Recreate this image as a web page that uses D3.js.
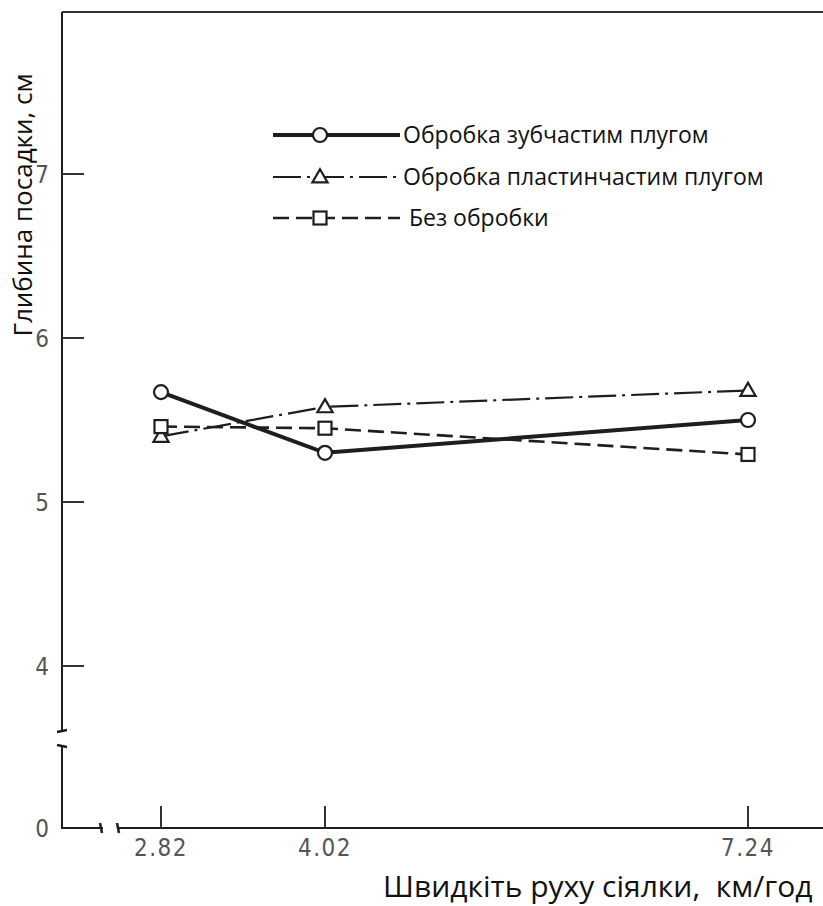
<!DOCTYPE html>
<html>
<head>
<meta charset="utf-8">
<script src="https://cdn.jsdelivr.net/npm/d3@7"></script>
<style>
  body { margin: 0; background: #fff; }
  svg { display: block; }
</style>
</head>
<body>
<div id="chart"></div>
<script>
// speeds, km/h
const speeds = [2.82, 4.02, 7.24];
const speedLabels = ['2.82', '4.02', '7.24'];

// planting depth, cm
const toothPlough = [5.67, 5.30, 5.50];
const platePlough = [5.40, 5.58, 5.68];
const noTillage = [5.46, 5.45, 5.29];

const seriesNames = ['Обробка зубчастим плугом', 'Обробка пластинчастим плугом', ' Без обробки'];
const yTicks = [4, 5, 6, 7];

const width = 823, height = 906;

const svg = d3.select('#chart')
    .append('svg')
    .attr('width', width)
    .attr('height', height);

// x positions of the three speeds are not evenly spaced in the original
const x = d3.scaleLinear()
    .domain(speeds)
    .range([161, 325, 748]);

const y = d3.scaleLinear()
    .domain([4, 7])
    .range([666, 174]);

const axisX = 62;     // left axis line
const baseY = 828;    // the zero line
const topY = 12;
const breakTop = 730, breakBottom = 747;
const ink = '#1e1e1e';

// frame: top border
svg.append('line')
    .attr('x1', axisX).attr('x2', width)
    .attr('y1', topY).attr('y2', topY)
    .attr('stroke', '#333').attr('stroke-width', 2);

// y axis in two pieces (broken)
svg.append('line')
    .attr('x1', axisX).attr('x2', axisX)
    .attr('y1', topY).attr('y2', breakTop)
    .attr('stroke', ink).attr('stroke-width', 2);
svg.append('line')
    .attr('x1', axisX).attr('x2', axisX)
    .attr('y1', breakBottom).attr('y2', baseY)
    .attr('stroke', ink).attr('stroke-width', 2);

// break marks on y axis
[breakTop, breakBottom].forEach(b => {
    svg.append('line')
        .attr('x1', axisX - 5).attr('x2', axisX + 5)
        .attr('y1', b + (b === breakTop ? 2 : -2)).attr('y2', b)
        .attr('stroke', ink).attr('stroke-width', 2.5);
});

// x axis in two pieces
svg.append('line')
    .attr('x1', axisX - 1).attr('x2', 103)
    .attr('y1', baseY).attr('y2', baseY)
    .attr('stroke', ink).attr('stroke-width', 2);
svg.append('line')
    .attr('x1', 117).attr('x2', width)
    .attr('y1', baseY).attr('y2', baseY)
    .attr('stroke', ink).attr('stroke-width', 2);
[101, 118].forEach(bx => {
    svg.append('line')
        .attr('x1', bx - 1).attr('x2', bx + 1)
        .attr('y1', baseY - 5).attr('y2', baseY + 5)
        .attr('stroke', ink).attr('stroke-width', 2.5);
});

// y ticks (pointing inward)
const tickFont = '"DejaVu Sans Condensed", "DejaVu Sans", sans-serif';
yTicks.forEach(t => {
    svg.append('line')
        .attr('x1', axisX).attr('x2', axisX + 22)
        .attr('y1', y(t)).attr('y2', y(t))
        .attr('stroke', '#333').attr('stroke-width', 2);
    svg.append('text')
        .attr('x', 49).attr('y', y(t))
        .attr('dy', '0.36em')
        .attr('text-anchor', 'end')
        .attr('fill', '#555')
        .style('font-family', tickFont)
        .style('font-size', '24px')
        .text(t);
});
svg.append('text')
    .attr('x', 49).attr('y', baseY)
    .attr('dy', '0.36em')
    .attr('text-anchor', 'end')
    .attr('fill', '#555')
    .style('font-family', tickFont)
    .style('font-size', '24px')
    .text('0');

// x ticks (pointing up)
speeds.forEach((s, i) => {
    svg.append('line')
        .attr('x1', x(s)).attr('x2', x(s))
        .attr('y1', baseY).attr('y2', baseY - 22)
        .attr('stroke', '#333').attr('stroke-width', 2);
    svg.append('text')
        .attr('x', x(s)).attr('y', 856)
        .attr('text-anchor', 'middle')
        .attr('fill', '#555')
        .style('font-family', tickFont)
        .style('font-size', '24px')
        .style('letter-spacing', '1.5px')
        .text(speedLabels[i]);
});

// axis titles
const titleFont = '"Open Sans", "Noto Sans", sans-serif';
svg.append('text')
    .attr('transform', 'translate(32, 205) rotate(-90)')
    .attr('text-anchor', 'middle')
    .attr('fill', '#111')
    .style('font-family', titleFont)
    .style('font-size', '26px')
    .text('Глибина посадки, см');

svg.append('text')
    .attr('x', 383).attr('y', 897)
    .attr('fill', '#111')
    .style('font-family', titleFont)
    .style('font-size', '30px')
    .style('white-space', 'pre')
    .text('Швидкіть руху сіялки,  км/год');

// series
const series = [
    {name: seriesNames[0], values: toothPlough, marker: 'circle', width: 4, dash: null},
    {name: seriesNames[1], values: platePlough, marker: 'triangle', width: 2.2, dash: '28,6,3,6'},
    {name: seriesNames[2], values: noTillage, marker: 'square', width: 2.6, dash: '16,7'}
];

const line = d3.line()
    .x((d, i) => x(speeds[i]))
    .y(d => y(d));

function drawMarker(g, type, cx, cy) {
    if (type === 'circle') {
        g.append('circle')
            .attr('cx', cx).attr('cy', cy).attr('r', 7)
            .attr('fill', '#fff').attr('stroke', ink).attr('stroke-width', 2.2);
    } else if (type === 'triangle') {
        g.append('path')
            .attr('d', d3.symbol(d3.symbolTriangle, 100)())
            .attr('transform', `translate(${cx}, ${cy + 1})`)
            .attr('fill', '#fff').attr('stroke', ink).attr('stroke-width', 2.2);
    } else {
        g.append('rect')
            .attr('x', cx - 6.5).attr('y', cy - 6.5)
            .attr('width', 13).attr('height', 13)
            .attr('fill', '#fff').attr('stroke', ink).attr('stroke-width', 2.2);
    }
}

const plot = svg.append('g');

series.forEach(s => {
    plot.append('path')
        .datum(s.values)
        .attr('d', line)
        .attr('fill', 'none')
        .attr('stroke', ink)
        .attr('stroke-width', s.width)
        .attr('stroke-dasharray', s.dash);
});
series.forEach(s => {
    s.values.forEach((v, i) => drawMarker(plot, s.marker, x(speeds[i]), y(v)));
});

// legend
const legend = svg.append('g');
const legendRows = [135, 177, 218];
series.forEach((s, i) => {
    const ly = legendRows[i];
    legend.append('line')
        .attr('x1', 273).attr('x2', 400)
        .attr('y1', ly).attr('y2', ly)
        .attr('stroke', ink)
        .attr('stroke-width', s.width)
        .attr('stroke-dasharray', s.dash);
    drawMarker(legend, s.marker, 320, ly);
    legend.append('text')
        .attr('x', 403).attr('y', ly)
        .attr('dy', '0.35em')
        .attr('fill', '#111')
        .style('font-family', titleFont)
        .style('font-size', '23px')
        .style('white-space', 'pre')
        .text(s.name);
});
</script>
</body>
</html>
